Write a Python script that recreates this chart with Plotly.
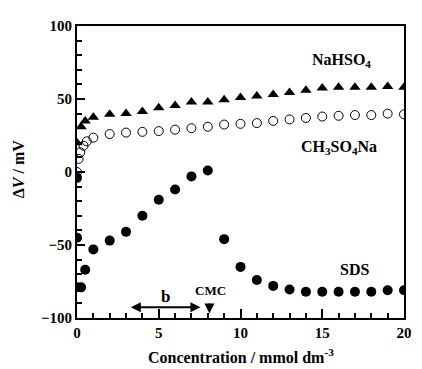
import plotly.graph_objects as go

# SDS (filled circles)
sds_x = [0, 0, 0, 0.25, 0.5, 1, 2, 3, 4, 5, 6, 7, 8, 9, 10, 11, 12, 13, 14, 15, 16, 17, 18, 19, 20]
sds_y = [-4, -45, -79, -79, -67, -53, -47, -41, -30, -19, -12, -3, 1, -46, -65, -74, -78, -80.5, -82, -82, -82, -82, -82, -81, -81]

# NaHSO4 (filled triangles)
na_x = [0, 0.25, 0.5, 1, 2, 3, 4, 5, 6, 7, 8, 9, 10, 11, 12, 13, 14, 15, 16, 17, 18, 19, 20]
na_y = [20, 31, 35, 37.5, 39.5, 40, 41.5, 44, 45.5, 48, 48, 49.5, 51, 52, 53, 54.5, 56, 57.5, 58, 58, 58, 58.5, 58]

# CH3SO4Na (open circles)
ch_x = [0, 0.1, 0.2, 0.4, 0.6, 1, 2, 3, 4, 5, 6, 7, 8, 9, 10, 11, 12, 13, 14, 15, 16, 17, 18, 19, 20]
ch_y = [0, 9, 13.5, 18, 21, 23.5, 26, 27, 27.5, 28, 29, 30, 31, 32.5, 33, 33.5, 35, 36, 37, 38, 38.5, 39, 39, 40, 39.5]

x_ticks = [0, 5, 10, 15, 20]
y_ticks = [-100, -50, 0, 50, 100]

FONT = "Liberation Serif"

fig = go.Figure()
fig.add_trace(go.Scatter(x=na_x, y=na_y, mode="markers", name="NaHSO4",
                         marker=dict(symbol="triangle-up", size=10, color="black")))
fig.add_trace(go.Scatter(x=ch_x, y=ch_y, mode="markers", name="CH3SO4Na",
                         marker=dict(symbol="circle-open", size=9, color="black", line=dict(width=1))))
fig.add_trace(go.Scatter(x=sds_x, y=sds_y, mode="markers", name="SDS",
                         marker=dict(symbol="circle", size=10, color="black")))

axis_common = dict(
    showgrid=False, zeroline=False, showline=True, linecolor="black", linewidth=2,
    ticks="inside", tickcolor="black", tickwidth=2, mirror=True,
    tickfont=dict(family=FONT, size=15, color="black", weight=700),
)

fig.update_xaxes(range=[0, 20], tickvals=x_ticks, ticklen=9,
                 minor=dict(dtick=1, ticks="inside", ticklen=5, tickcolor="black"),
                 **axis_common)
fig.update_yaxes(range=[-100, 100], tickvals=y_ticks, ticklen=8,
                 minor=dict(dtick=10, ticks="inside", ticklen=5, tickcolor="black"),
                 **axis_common)

# axis titles as paper annotations
fig.add_annotation(xref="paper", yref="paper", x=0.5, y=-0.13, xanchor="center", yanchor="middle",
                   text="Concentration / mmol dm<sup>-3</sup>", showarrow=False,
                   font=dict(family=FONT, size=16, color="black", weight=700))
fig.add_annotation(xref="paper", yref="paper", x=-0.18, y=0.51, xanchor="center", yanchor="middle",
                   text="Δ<i>V</i> / mV", showarrow=False, textangle=-90,
                   font=dict(family=FONT, size=16, color="black", weight=700))

labels = [
    ("NaHSO<sub>4</sub>", 16.2, 76.7, 16),
    ("CH<sub>3</sub>SO<sub>4</sub>Na", 16.0, 16.7, 16),
    ("SDS", 17.0, -66.7, 16),
    ("b", 5.4, -85, 17),
    ("CMC", 8.15, -81, 13),
]
for txt, lx, ly, fs in labels:
    fig.add_annotation(x=lx, y=ly, text=txt, showarrow=False,
                       font=dict(family=FONT, size=fs, color="black", weight=700))

# double arrow "b"
fig.add_annotation(x=7.55, y=-92.7, ax=3.2, ay=-92.7, axref="x", ayref="y", xref="x", yref="y",
                   text="", showarrow=True, arrowhead=2, arrowside="end+start",
                   arrowwidth=2, arrowsize=1, arrowcolor="black")
# CMC arrow
fig.add_annotation(x=8.1, y=-97, ax=8.1, ay=-89, axref="x", ayref="y", xref="x", yref="y",
                   text="", showarrow=True, arrowhead=2, arrowwidth=2, arrowsize=1, arrowcolor="black")

# page body has an 8px margin, so the figure is offset by 8px
fig.update_layout(width=414, height=361, margin=dict(l=69, r=11, t=10, b=51),
                  plot_bgcolor="white", paper_bgcolor="white", showlegend=False,
                  font=dict(family=FONT, color="black"))
fig.write_html("out.html")
